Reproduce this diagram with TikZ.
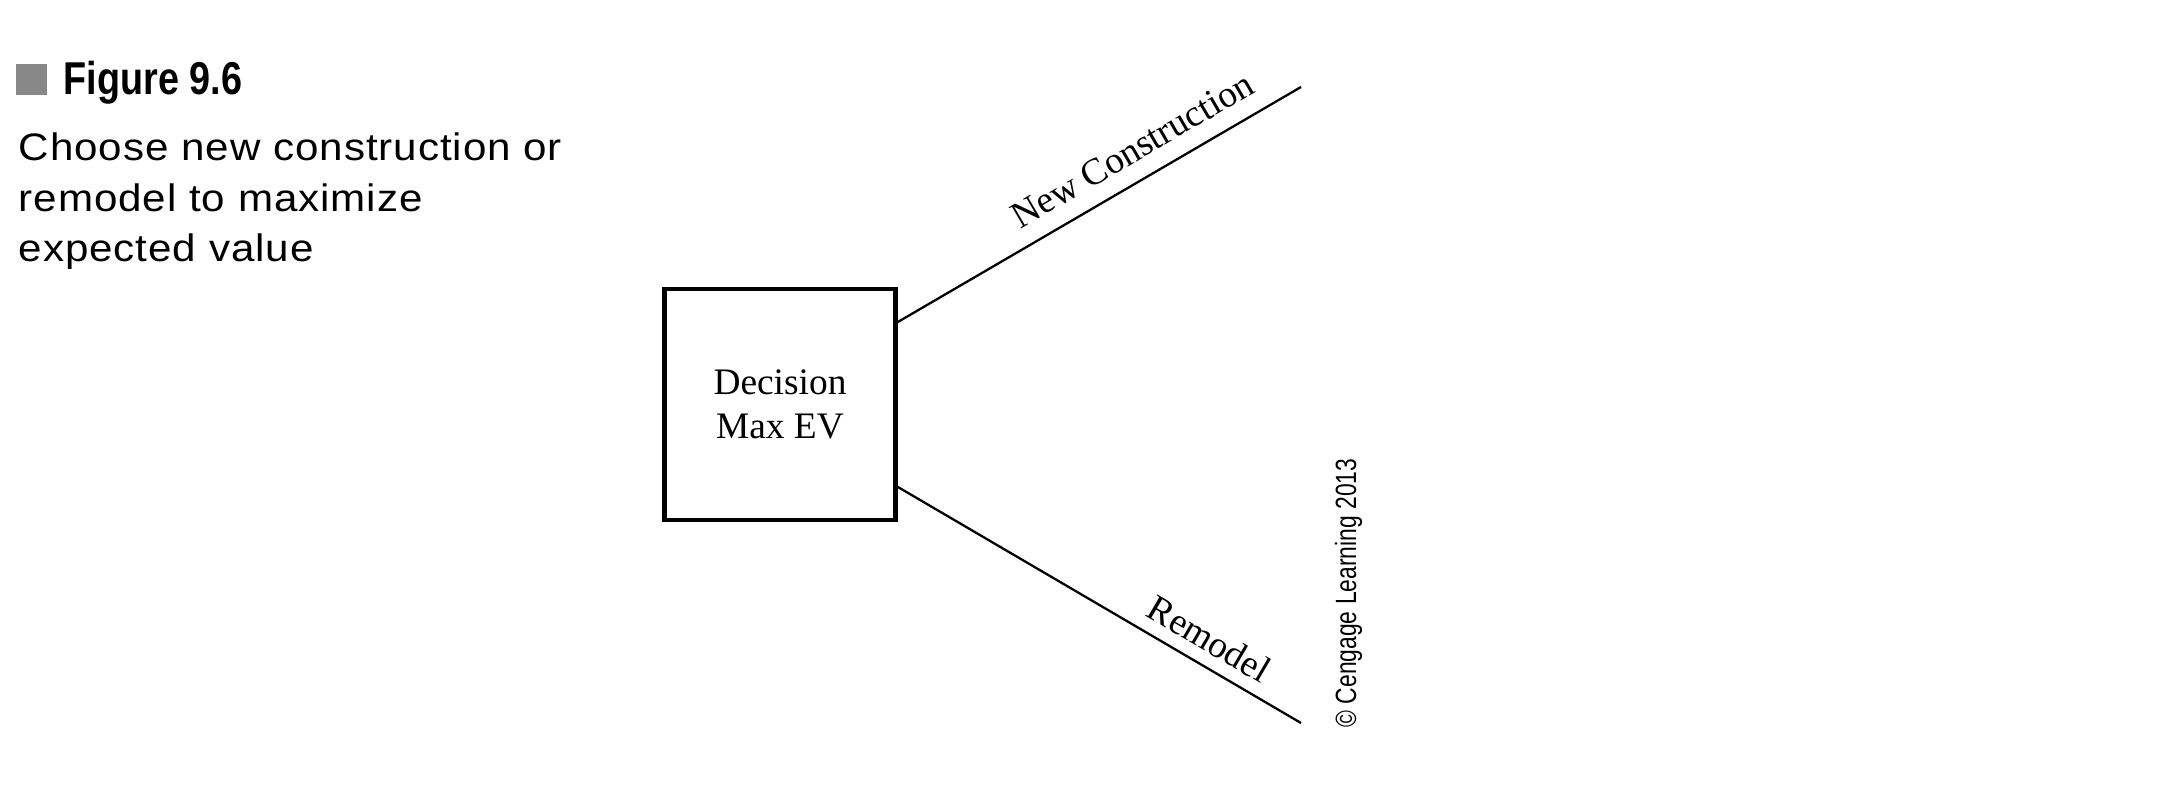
\documentclass[tikz,border=0pt]{standalone}
\usepackage{fontspec}
\setmainfont{Liberation Serif}
\newfontfamily\headfont[FakeStretch=0.82]{Liberation Sans}
\newfontfamily\bodyfont[FakeStretch=1.1,LetterSpace=2.5]{Liberation Sans}
\newfontfamily\creditfont[FakeStretch=0.78]{Liberation Sans}
\definecolor{figgray}{gray}{0.53}
\tikzset{
  decbox/.style={draw, line width=1.15pt, minimum size=2.31cm, inner sep=0pt, align=center, font=\fontsize{10.64}{12.5}\selectfont},
  branch/.style={line width=0.65pt},
  blabel/.style={sloped, inner sep=0pt, font=\fontsize{10.64}{12.5}\selectfont}
}

\begin{document}
\begin{tikzpicture}
      \useasboundingbox (0,0) rectangle (21.84,7.88);
      % caption
      \fill[figgray] (0.16,6.93) rectangle (0.47,7.24);
      \node[anchor=base west, inner sep=0pt, font=\headfont\bfseries\fontsize{13.1}{15}\selectfont] (fig) at (0.63,6.93) {Figure 9.6};
      \node[anchor=base west, inner sep=0pt, align=left, font=\bodyfont\fontsize{10.9}{14.4}\selectfont] (cap) at (0.18,5.26) {Choose new construction or\\remodel to maximize\\expected value};
      % decision and its two branches
      \node[decbox] (dec) at (7.80,3.835) {Decision\\Max EV};
      \coordinate (nc) at (13.01,7.01);
      \coordinate (rm) at (13.01,0.65);
      \draw[branch] (dec.35.5) -- node[blabel, pos=0.62, above=4.8pt] (ncl) {New Construction} (nc);
      \draw[branch] (dec.-35.5) -- node[blabel, pos=0.74, above=3.4pt] (rml) {Remodel} (rm);
      \node[rotate=90, anchor=base, inner sep=0pt, font=\creditfont\fontsize{8.34}{10}\selectfont] (cr) at (13.56,1.95) {\textcopyright{} Cengage Learning 2013};
    \end{tikzpicture}
\end{document}
